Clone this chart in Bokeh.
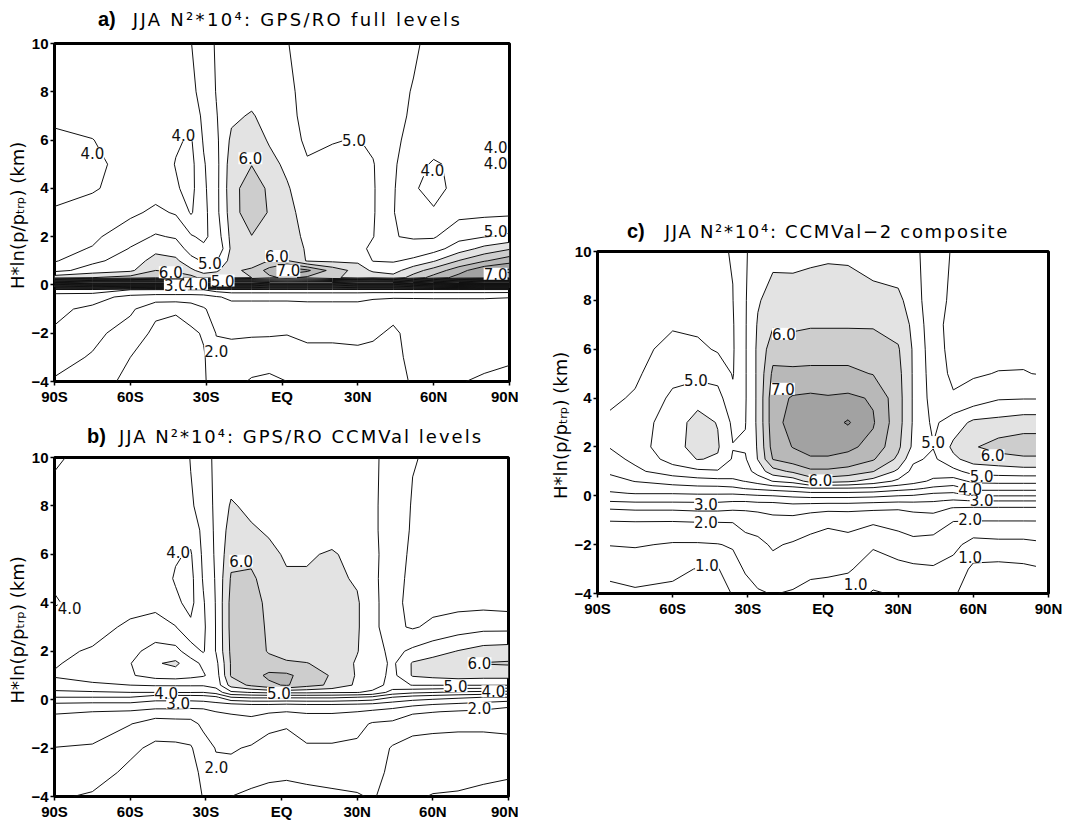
import numpy as np
from bokeh.plotting import figure
from bokeh.layouts import row, column
from bokeh.models import FixedTicker, LabelSet, ColumnDataSource, Range1d, Div
from bokeh.core.properties import value
from bokeh.embed import file_html
from bokeh.resources import INLINE

# ---------------- data (N^2 * 10^4) ----------------
LAT = [-90, -75, -60, -50, -42, -36, -31, -26, -20, -12, -5, 2, 10, 20, 30, 36, 44, 52, 60, 70, 80, 90]
LAT_C = [-85, -75, -60, -50, -42, -36, -31, -26, -20, -12, -5, 2, 10, 20, 30, 36, 44, 52, 60, 70, 80, 85]
HGT = [-4, -3, -2, -1, -0.5, -0.2, 0.1, 0.3, 0.6, 1, 1.5, 2, 3, 4, 5, 6, 7, 8, 10]

# panel a: GPS/RO full levels (one row per height)
N2_A = [
    [1.95, 1.85, 1.3, 1.15, 1.1, 1.15, 1.45, 1.7, 1.65, 1.45, 1.4, 1.5, 1.65, 1.7, 1.75, 1.75, 1.85, 2.05, 2.05, 2.02, 1.95, 1.9],
    [2.2, 1.95, 1.5, 1.3, 1.2, 1.25, 1.45, 1.85, 1.85, 1.75, 1.7, 1.75, 1.85, 1.85, 1.9, 1.9, 1.9, 2.1, 2.15, 2.1, 2.1, 2.05],
    [2.45, 2.15, 1.75, 1.4, 1.35, 1.4, 1.55, 2.02, 2.05, 2.05, 2.05, 2.02, 2.1, 2.1, 2.1, 2.05, 1.95, 2.1, 2.15, 2.15, 2.15, 2.15],
    [2.6, 2.4, 2.1, 1.6, 1.55, 1.75, 1.95, 2.2, 2.3, 2.3, 2.3, 2.3, 2.35, 2.35, 2.35, 2.3, 2.1, 2.15, 2.2, 2.2, 2.2, 2.2],
    [2.75, 2.7, 2.35, 2.3, 2.3, 2.25, 2.3, 2.45, 2.6, 2.6, 2.6, 2.6, 2.6, 2.6, 2.6, 2.55, 2.55, 2.55, 2.55, 2.55, 2.55, 2.52],
    [3.3, 3.3, 3.0, 2.9, 2.9, 3.0, 3.0, 3.2, 3.3, 3.3, 3.3, 3.3, 3.3, 3.3, 3.3, 3.3, 3.3, 3.3, 3.3, 3.3, 3.3, 3.3],
    [9.0, 9.5, 9.5, 9.5, 9.5, 9.5, 9.0, 9.0, 9.0, 9.0, 8.5, 8.5, 8.5, 8.5, 9.0, 9.0, 9.0, 9.5, 10.0, 10.5, 11.0, 11.0],
    [5.8, 6.0, 6.2, 6.4, 6.3, 6.2, 5.8, 5.9, 5.9, 6.0, 6.4, 6.6, 6.4, 6.1, 5.8, 5.9, 5.7, 6.2, 6.7, 7.2, 7.3, 7.3],
    [4.85, 5.2, 5.4, 6.0, 5.9, 5.6, 5.3, 5.4, 5.9, 6.1, 6.7, 7.4, 7.1, 6.3, 5.8, 5.4, 5.3, 5.8, 6.2, 6.8, 7.4, 7.6],
    [4.45, 4.9, 5.2, 5.7, 5.6, 5.15, 4.95, 4.95, 5.7, 5.7, 6.02, 6.05, 5.45, 5.4, 5.4, 4.98, 4.95, 5.1, 5.45, 6.02, 6.45, 6.8],
    [4.35, 4.53, 5.03, 5.35, 5.25, 4.8, 4.6, 4.52, 5.6, 5.75, 5.8, 5.75, 5.45, 5.3, 5.2, 4.85, 4.55, 4.7, 4.8, 5.25, 5.65, 5.95],
    [4.25, 4.4, 4.8, 5.05, 4.95, 4.55, 4.4, 4.7, 5.65, 5.98, 5.85, 5.7, 5.4, 5.3, 5.15, 5.02, 4.52, 4.45, 4.45, 4.85, 4.98, 5.1],
    [4.05, 4.2, 4.4, 4.6, 4.45, 3.95, 4.35, 4.85, 5.75, 6.35, 5.95, 5.65, 5.3, 5.25, 5.15, 5.05, 4.52, 4.2, 4.05, 4.35, 4.38, 4.4],
    [3.85, 3.95, 4.2, 4.3, 4.05, 3.85, 4.4, 4.85, 5.8, 6.3, 5.9, 5.55, 5.2, 5.2, 5.15, 5.05, 4.55, 4.05, 3.85, 4.15, 4.15, 4.15],
    [3.8, 3.9, 4.15, 4.25, 3.98, 3.85, 4.45, 4.85, 5.75, 5.98, 5.65, 5.4, 5.05, 5.1, 5.1, 5.03, 4.58, 4.15, 3.95, 4.1, 4.07, 4.05],
    [3.9, 3.99, 4.2, 4.3, 4.05, 3.95, 4.55, 4.9, 5.6, 5.75, 5.45, 5.25, 4.9, 4.98, 5.02, 4.9, 4.6, 4.35, 4.2, 4.15, 4.12, 4.1],
    [4.1, 4.15, 4.3, 4.35, 4.25, 4.2, 4.6, 4.97, 5.4, 5.55, 5.3, 5.15, 4.85, 4.88, 4.9, 4.85, 4.6, 4.45, 4.3, 4.25, 4.22, 4.2],
    [4.2, 4.25, 4.35, 4.4, 4.35, 4.4, 4.65, 5.02, 5.25, 5.3, 5.2, 5.1, 4.85, 4.8, 4.8, 4.8, 4.6, 4.48, 4.35, 4.3, 4.28, 4.25],
    [4.3, 4.3, 4.4, 4.4, 4.4, 4.49, 4.7, 5.06, 5.15, 5.2, 5.15, 5.02, 4.8, 4.75, 4.75, 4.75, 4.6, 4.55, 4.4, 4.35, 4.3, 4.3],
]

# panel b: GPS/RO on CCMVal levels
N2_B = [
    [1.55, 1.45, 1.3, 1.1, 1.15, 1.3, 1.52, 1.8, 1.5, 1.35, 1.3, 1.3, 1.35, 1.4, 1.45, 1.55, 1.3, 1.05, 0.98, 0.97, 0.95, 0.95],
    [1.8, 1.7, 1.4, 1.25, 1.25, 1.35, 1.6, 1.9, 1.85, 1.8, 1.65, 1.6, 1.65, 1.7, 1.75, 1.65, 1.4, 1.3, 1.15, 1.1, 1.05, 1.02],
    [1.99, 1.95, 1.6, 1.4, 1.4, 1.45, 1.8, 2.02, 2.05, 1.95, 1.85, 1.8, 1.95, 1.95, 1.9, 1.8, 1.45, 1.4, 1.35, 1.3, 1.3, 1.3],
    [2.3, 2.25, 2.02, 1.75, 1.8, 1.85, 2.1, 2.3, 2.3, 2.35, 2.1, 2.05, 2.2, 2.2, 2.15, 1.95, 1.9, 1.6, 1.6, 1.6, 1.6, 1.65],
    [2.55, 2.5, 2.45, 2.3, 2.3, 2.25, 2.3, 2.5, 2.55, 2.6, 2.55, 2.5, 2.55, 2.55, 2.5, 2.4, 2.3, 2.1, 2.02, 1.95, 1.9, 1.85],
    [2.9, 2.85, 2.85, 2.8, 2.8, 2.8, 2.8, 2.85, 2.9, 3.0, 3.0, 2.95, 3.0, 3.0, 2.95, 2.9, 2.75, 2.6, 2.5, 2.4, 2.3, 2.1],
    [3.5, 3.5, 3.5, 3.2, 3.2, 3.2, 3.25, 3.4, 4.0, 4.1, 4.1, 4.1, 4.1, 4.1, 4.0, 3.9, 3.5, 3.3, 3.2, 3.1, 3.0, 3.0],
    [3.9, 3.95, 4.0, 4.0, 4.02, 4.02, 4.0, 4.2, 4.9, 5.02, 5.1, 5.1, 5.1, 5.05, 5.02, 4.9, 4.3, 4.1, 4.02, 3.9, 3.85, 3.8],
    [4.3, 4.4, 4.5, 4.55, 4.55, 4.55, 4.55, 4.7, 5.7, 6.1, 6.4, 6.55, 6.2, 5.9, 5.4, 5.25, 4.8, 5.02, 5.02, 5.02, 5.02, 5.02],
    [4.55, 4.75, 4.95, 5.2, 5.25, 5.15, 5.05, 4.75, 6.05, 6.3, 6.6, 6.6, 6.3, 5.95, 5.45, 5.3, 4.85, 5.55, 5.65, 5.75, 5.7, 5.7],
    [4.45, 4.7, 4.98, 5.45, 5.6, 5.2, 4.9, 4.85, 6.05, 6.3, 6.2, 6.05, 6.02, 5.8, 5.45, 5.3, 4.9, 5.55, 5.7, 5.85, 6.02, 6.05],
    [4.4, 4.55, 4.85, 5.2, 5.15, 4.75, 4.45, 5.02, 6.1, 6.3, 5.95, 5.85, 5.7, 5.7, 5.52, 5.25, 4.85, 5.1, 5.3, 5.52, 5.7, 5.75],
    [4.15, 4.3, 4.6, 4.65, 4.52, 4.1, 4.4, 5.02, 6.15, 6.3, 5.9, 5.75, 5.6, 5.6, 5.55, 5.2, 4.6, 4.45, 4.6, 4.75, 4.85, 4.85],
    [3.97, 4.15, 4.3, 4.4, 4.1, 3.85, 4.45, 5.03, 6.15, 6.25, 5.85, 5.7, 5.6, 5.6, 5.55, 5.2, 4.6, 4.4, 4.35, 4.35, 4.35, 4.3],
    [4.05, 4.15, 4.25, 4.3, 3.95, 3.85, 4.55, 5.05, 6.05, 6.1, 5.75, 5.55, 5.55, 5.6, 5.45, 5.15, 4.65, 4.4, 4.35, 4.3, 4.3, 4.25],
    [4.1, 4.15, 4.25, 4.3, 4.05, 3.95, 4.6, 5.08, 5.85, 5.85, 5.6, 5.45, 5.45, 5.55, 5.35, 5.15, 4.7, 4.42, 4.35, 4.3, 4.3, 4.25],
    [4.1, 4.15, 4.2, 4.25, 4.2, 4.2, 4.62, 5.1, 5.7, 5.55, 5.45, 5.3, 5.4, 5.3, 5.2, 5.1, 4.75, 4.45, 4.4, 4.35, 4.3, 4.25],
    [4.05, 4.1, 4.15, 4.2, 4.2, 4.45, 4.65, 5.12, 5.55, 5.4, 5.3, 5.2, 5.2, 5.15, 5.1, 5.1, 4.75, 4.47, 4.4, 4.35, 4.3, 4.25],
    [3.98, 4.05, 4.1, 4.15, 4.2, 4.52, 4.7, 5.15, 5.2, 5.2, 5.15, 5.1, 5.1, 5.05, 5.1, 5.1, 4.8, 4.52, 4.45, 4.4, 4.35, 4.3],
]

# panel c: CCMVal-2 composite (85S-85N)
N2_C = [
    [0.9, 0.95, 0.9, 0.8, 0.85, 1.02, 1.3, 1.45, 1.52, 1.45, 1.3, 1.3, 1.25, 0.95, 1.05, 1.1, 1.2, 1.05, 0.8, 0.75, 0.75, 0.8],
    [1.1, 1.15, 1.1, 0.98, 0.97, 1.3, 1.55, 1.7, 1.85, 1.75, 1.65, 1.6, 1.55, 1.3, 1.35, 1.4, 1.45, 1.3, 0.9, 0.85, 0.9, 0.95],
    [1.52, 1.55, 1.45, 1.45, 1.48, 1.55, 1.85, 1.9, 2.05, 1.95, 1.85, 1.8, 1.85, 1.55, 1.75, 1.85, 1.8, 1.65, 1.3, 1.35, 1.35, 1.4],
    [2.02, 2.03, 2.03, 2.05, 2.05, 2.05, 2.15, 2.2, 2.35, 2.35, 2.2, 2.1, 2.15, 2.1, 2.2, 2.3, 2.3, 2.02, 2.02, 2.02, 2.02, 2.02],
    [2.55, 2.6, 2.6, 2.65, 2.65, 2.6, 2.6, 2.65, 2.7, 2.75, 2.7, 2.65, 2.65, 2.6, 2.55, 2.6, 2.65, 2.48, 2.45, 2.45, 2.45, 2.45],
    [3.05, 3.1, 3.1, 3.1, 3.1, 3.05, 3.05, 3.1, 3.1, 3.2, 3.2, 3.2, 3.2, 3.15, 3.1, 3.1, 3.05, 2.95, 3.02, 3.02, 3.02, 3.02],
    [3.45, 3.52, 3.52, 3.55, 3.55, 3.55, 3.6, 3.65, 3.7, 3.8, 3.9, 3.9, 3.9, 3.85, 3.7, 3.65, 3.5, 3.45, 3.75, 3.75, 3.75, 3.75],
    [3.6, 3.7, 3.8, 3.85, 3.85, 3.9, 4.02, 4.1, 4.2, 4.3, 4.45, 4.45, 4.45, 4.4, 4.2, 4.1, 3.9, 3.8, 4.15, 4.15, 4.15, 4.15],
    [3.8, 4.02, 4.2, 4.3, 4.35, 4.4, 4.52, 4.7, 5.02, 5.2, 5.7, 5.7, 5.6, 5.3, 4.9, 4.7, 4.4, 4.3, 4.6, 4.65, 4.65, 4.65],
    [4.1, 4.4, 4.75, 4.9, 4.95, 4.8, 4.8, 5.2, 5.8, 6.1, 6.4, 6.4, 6.3, 6.02, 5.4, 4.85, 4.75, 4.85, 5.2, 5.25, 5.3, 5.3],
    [4.35, 4.6, 5.2, 5.52, 5.45, 4.95, 4.95, 5.52, 6.52, 6.75, 6.95, 6.95, 6.85, 6.55, 5.9, 5.1, 4.9, 5.4, 5.7, 5.8, 5.9, 5.9],
    [4.52, 4.75, 5.35, 5.65, 5.55, 5.02, 5.05, 5.55, 6.7, 7.02, 7.15, 7.15, 7.1, 6.85, 6.1, 5.4, 5.02, 5.6, 5.95, 6.2, 6.3, 6.3],
    [4.58, 4.7, 5.3, 5.65, 5.48, 4.9, 4.98, 5.6, 6.8, 7.2, 7.3, 7.3, 7.55, 7.05, 6.2, 5.45, 4.9, 5.25, 5.6, 5.65, 5.75, 5.75],
    [4.42, 4.55, 5.1, 5.35, 5.2, 4.6, 4.96, 5.6, 6.8, 7.05, 7.1, 7.05, 7.1, 6.95, 6.2, 5.45, 4.8, 4.55, 4.7, 4.95, 4.97, 4.97],
    [4.35, 4.42, 4.85, 4.85, 4.8, 4.47, 4.96, 5.6, 6.6, 6.6, 6.6, 6.6, 6.6, 6.48, 6.15, 5.45, 4.75, 4.4, 4.45, 4.52, 4.52, 4.49],
    [4.3, 4.35, 4.65, 4.6, 4.45, 4.45, 4.96, 5.6, 6.3, 6.25, 6.3, 6.3, 6.3, 6.25, 6.05, 5.45, 4.7, 4.35, 4.35, 4.35, 4.4, 4.45],
    [4.3, 4.3, 4.45, 4.4, 4.4, 4.46, 4.96, 5.55, 5.95, 5.9, 5.95, 5.95, 5.95, 5.95, 5.8, 5.4, 4.65, 4.35, 4.3, 4.3, 4.35, 4.4],
    [4.3, 4.3, 4.35, 4.35, 4.42, 4.49, 4.96, 5.45, 5.7, 5.75, 5.8, 5.8, 5.75, 5.7, 5.6, 5.3, 4.6, 4.45, 4.3, 4.3, 4.35, 4.4],
    [4.3, 4.3, 4.3, 4.3, 4.45, 4.52, 4.96, 5.2, 5.35, 5.3, 5.35, 5.4, 5.4, 5.2, 5.2, 5.2, 4.6, 4.48, 4.3, 4.3, 4.35, 4.4],
]

LINE_LEVELS = [0.5 * i for i in range(1, 27)]
FILL_LEVELS = [5.5, 6.0, 6.5, 7.0, 7.5, 8.0, 14.0]
FILL_COLORS = ["#e3e3e3", "#cdcdcd", "#b8b8b8", "#a2a2a2", "#8e8e8e", "#777777"]

X_TICKS = [-90, -60, -30, 0, 30, 60, 90]
X_TICK_LABELS = ["90S", "60S", "30S", "EQ", "30N", "60N", "90N"]
Y_TICKS = [-4, -2, 0, 2, 4, 6, 8, 10]
Y_TICK_LABELS = ["\u22124", "\u22122", "0", "2", "4", "6", "8", "10"]

# contour labels
A_LBL_X = [-75, -39, -12.5, -28.5, -44, -42, -34, -23.5, -2, 2.5, 28.5, 59.5, 84.5, 84.5, 84.5, 84.5, -26]
A_LBL_Y = [5.45, 6.2, 5.25, 0.9, 0.52, -0.02, 0.05, 0.18, 1.2, 0.6, 6.0, 4.75, 5.7, 5.07, 2.25, 0.46, -2.72]
A_LBL_T = ["4.0", "4.0", "6.0", "5.0", "6.0", "3.0", "4.0", "5.0", "6.0", "7.0", "5.0", "4.0", "4.0", "4.0", "5.0", "7.0", "2.0"]

B_LBL_X = [-41, -84, -16, 78.5, 69, 84, 78.5, -1, -41, -45.7, -25.8]
B_LBL_Y = [6.1, 3.8, 5.74, 1.5, 0.56, 0.35, -0.33, 0.28, -0.13, 0.28, -2.8]
B_LBL_T = ["4.0", "4.0", "6.0", "6.0", "5.0", "4.0", "2.0", "5.0", "3.0", "4.0", "2.0"]

C_LBL_X = [-50.7, -15.6, -16, -1, 44, 67.7, 63.3, 58.7, 63.3, 58.7, 58.7, -46.7, -46.7, -46.3, 13]
C_LBL_Y = [4.72, 6.63, 4.38, 0.63, 2.2, 1.66, -0.18, 0.29, 0.8, -0.93, -2.5, -0.32, -1.07, -2.84, -3.6]
C_LBL_T = ["5.0", "6.0", "7.0", "6.0", "5.0", "6.0", "3.0", "4.0", "5.0", "2.0", "1.0", "3.0", "2.0", "1.0", "1.0"]

TITLE_A = "JJA N\u00b2*10\u2074: GPS/RO full levels"
TITLE_B = "JJA N\u00b2*10\u2074: GPS/RO CCMVal levels"
TITLE_C = "JJA N\u00b2*10\u2074: CCMVal\u22122 composite"
Y_LABEL = "H*ln(p/p\u209c\u1d63\u209a)  (km)"


def title_div(letter, text, width, height, pad_left, pad_top, gap, spacing):
    html = (
        f'<div style="white-space:nowrap;padding-left:{pad_left}px;padding-top:{pad_top}px;color:#000;">'
        f'<span style="font-family:\'Liberation Sans\';font-weight:bold;font-size:20px;">{letter}</span>'
        f'<span style="font-family:\'DejaVu Sans\';font-size:18px;letter-spacing:{spacing}px;'
        f'margin-left:{gap}px;">{text}</span></div>'
    )
    return Div(text=html, width=width, height=height, margin=0)


def panel(lat, z, fw, fh, bl, bt, br, bb, lx, ly, lt):
    p = figure(frame_width=fw, frame_height=fh, x_range=Range1d(-90, 90), y_range=Range1d(-4, 10),
               output_backend="svg", toolbar_location=None,
               min_border_left=bl, min_border_top=bt, min_border_right=br, min_border_bottom=bb)
    p.grid.visible = False
    p.outline_line_color = "black"
    p.outline_line_width = 3
    p.background_fill_color = "white"
    p.border_fill_color = "white"

    zz = np.array(z)
    p.contour(x=lat, y=HGT, z=zz, levels=FILL_LEVELS, fill_color=FILL_COLORS, line_color=None)
    p.contour(x=lat, y=HGT, z=zz, levels=LINE_LEVELS, line_color="#111111", line_width=1.0)

    src = ColumnDataSource(dict(x=lx, y=ly, t=lt))
    p.add_layout(LabelSet(x="x", y="y", text="t", source=src, text_align="center",
                          text_baseline="middle", text_font=value("DejaVu Sans"),
                          text_font_size="15px", text_color="#111111",
                          background_fill_color="white"))

    for ax in (p.xaxis, p.yaxis):
        ax.axis_line_color = None
        ax.major_tick_line_color = "black"
        ax.major_tick_line_width = 1.5
        ax.major_tick_out = 4
        ax.major_tick_in = 0
        ax.minor_tick_line_color = None
        ax.major_label_text_font = "Liberation Sans"
        ax.major_label_text_font_size = "15px"
        ax.major_label_text_font_style = "bold"
        ax.major_label_text_color = "black"
        ax.major_label_standoff = 2
    p.xaxis.ticker = FixedTicker(ticks=X_TICKS)
    p.xaxis.major_label_overrides = {t: s for t, s in zip(X_TICKS, X_TICK_LABELS)}
    p.yaxis.ticker = FixedTicker(ticks=Y_TICKS)
    p.yaxis.major_label_overrides = {t: s for t, s in zip(Y_TICKS, Y_TICK_LABELS)}
    p.yaxis.axis_label = Y_LABEL
    p.yaxis.axis_label_text_font = "DejaVu Sans"
    p.yaxis.axis_label_text_font_size = "18px"
    p.yaxis.axis_label_text_font_style = "normal"
    p.yaxis.axis_label_text_color = "black"
    p.yaxis.axis_label_standoff = 0
    return p


pa = panel(LAT, N2_A, 455, 338, 53, 10, 10, 29, A_LBL_X, A_LBL_Y, A_LBL_T)
pb = panel(LAT, N2_B, 454, 339, 54, 10, 10, 24, B_LBL_X, B_LBL_Y, B_LBL_T)
pc = panel(LAT_C, N2_C, 451, 342, 79, 10, 20, 30, C_LBL_X, C_LBL_Y, C_LBL_T)

ta = title_div("a)", TITLE_A, 518, 33, 98, 5, 17, 2.3)
tb = title_div("b)", TITLE_B, 518, 37, 87, 12, 13, 2.0)
tc = title_div("c)", TITLE_C, 550, 241, 109, 217, 20, 1.7)

layout = row(column(ta, pa, tb, pb), column(tc, pc))

open("out.html", "w").write(file_html(layout, INLINE))
